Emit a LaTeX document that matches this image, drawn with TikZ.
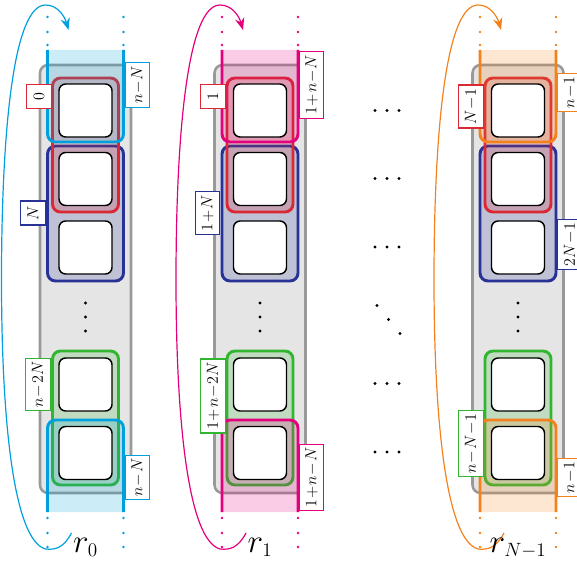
\documentclass[tikz,border=0pt]{standalone}
\usepackage{tikz}
\usetikzlibrary{arrows.meta}
\definecolor{bandA}{RGB}{0,160,222}
\definecolor{bandB}{RGB}{228,0,124}
\definecolor{bandC}{RGB}{243,130,30}
\definecolor{setRed}{RGB}{218,40,52}
\definecolor{setBlue}{RGB}{40,50,150}
\definecolor{setGreen}{RGB}{50,182,50}
\newcommand\rsub[1]{\hbox{\fontsize{14}{14}\selectfont$#1$}}
\tikzset{
	group/.style={draw=#1, fill=#1, fill opacity=0.2, line width=2.2pt, rounded corners=6pt},
	slot/.style={draw=black, fill=white, line width=1.1pt, rounded corners=5pt},
	tag/.style={draw=#1, fill=white, line width=0.9pt, rotate=90, inner sep=2.5pt,
		minimum width=18pt, minimum height=18.5pt, font=\fontsize{12}{14}\selectfont,
		execute at begin node={\medmuskip=1mu\relax}},
	loopy/.style={draw=#1, line width=0.9pt, -{Stealth[length=9pt, width=7pt]}},
	rname/.style={anchor=base, inner sep=0pt, font=\fontsize{23}{25}\selectfont}
}

\begin{document}
\begin{tikzpicture}[x=0.75pt, y=-0.75pt]
	\useasboundingbox (0,0) rectangle (577,560);
	% one register per round
	\foreach \cx/\bc/\nm/\rl in {85.5/bandA/0/{r_{\rsub{0}}}, 260/bandB/1/{r_{\rsub{1}}}, 518/bandC/2/{r_{\rsub{N{-}1}}}}{
		\filldraw[fill=black!10, draw=black!40, line width=1.9pt, rounded corners=6pt] (\cx-45.5,65) rectangle (\cx+45.5,493);
		\path[group=setBlue] (\cx-38,146) rectangle (\cx+38,281);
		\path[group=setRed] (\cx-33,78) rectangle (\cx+33,212);
		\path[group=setGreen] (\cx-33,351) rectangle (\cx+33,485);
		\path[group=\bc] (\cx-38,50) -- (\cx-38,142) -- (\cx+38,142) -- (\cx+38,50);
		\path[group=\bc] (\cx-38,512) -- (\cx-38,420) -- (\cx+38,420) -- (\cx+38,512);
		\foreach \row in {0,1,2,4,5}
			\draw[slot] (\cx-26.5,84+68.5*\row) rectangle ++(53,53);
		\foreach \yy in {303,317,331}
			\fill (\cx,\yy) circle (1.2pt);
		\foreach \yy in {17,32,45,518,533,547}{
			\fill[\bc] (\cx-38,\yy) circle (1.1pt);
			\fill[\bc] (\cx+38,\yy) circle (1.1pt);
		}
		\coordinate (s\nm) at (\cx-14,533);
		\coordinate (t\nm) at (\cx-17,30);
		\draw[loopy=\bc] (s\nm) .. controls (\cx-22,548) and (\cx-30,550) .. (\cx-40,549)
			.. controls (\cx-72,540) and (\cx-84,420) .. (\cx-84,280)
			.. controls (\cx-84,130) and (\cx-72,5) .. (\cx-40,5)
			.. controls (\cx-28,5) and (\cx-21,16) .. (t\nm);
		\node[rname] (r\nm) at (\cx,552) {$\rl$};
	}

	% labels of round 0
	\node[tag=setRed] (a0) at (39,96.5) {$0$};
	\node[tag=bandA] (a1) at (137.5,85) {$n-N$};
	\node[tag=setBlue] (a2) at (33,213) {$N$};
	\node[tag=setGreen] (a3) at (38,384.5) {$n-2N$};
	\node[tag=bandA] (a4) at (137.5,477.5) {$n-N$};
	% labels of round 1
	\node[tag=setRed] (b0) at (213,96.5) {$1$};
	\node[tag=bandB] (b1) at (311.5,85) {$1+n-N$};
	\node[tag=setBlue] (b2) at (207.5,213) {$1+N$};
	\node[tag=setGreen] (b3) at (213,396) {$1+n-2N$};
	\node[tag=bandB] (b4) at (311.5,477.5) {$1+n-N$};
	% labels of round N-1
	\node[tag=setRed] (c0) at (471,106.5) {$N-1$};
	\node[tag=bandC] (c1) at (570,92.5) {$n-1$};
	\node[tag=setBlue] (c2) at (570,244.5) {$2N-1$};
	\node[tag=setGreen] (c3) at (471,443.5) {$n-N-1$};
	\node[tag=bandC] (c4) at (570,477.5) {$n-1$};

	% rounds left out
	\foreach \yy in {110.5,178.5,247,383.5,452}
		\foreach \dx in {-12,0,12}
			\fill (387+\dx,\yy) circle (1.2pt);
	\foreach \dx/\yy in {-10/305.5,1.5/319.5,13/333.5}
		\fill (387+\dx,\yy) circle (1.2pt);
\end{tikzpicture}
\end{document}
